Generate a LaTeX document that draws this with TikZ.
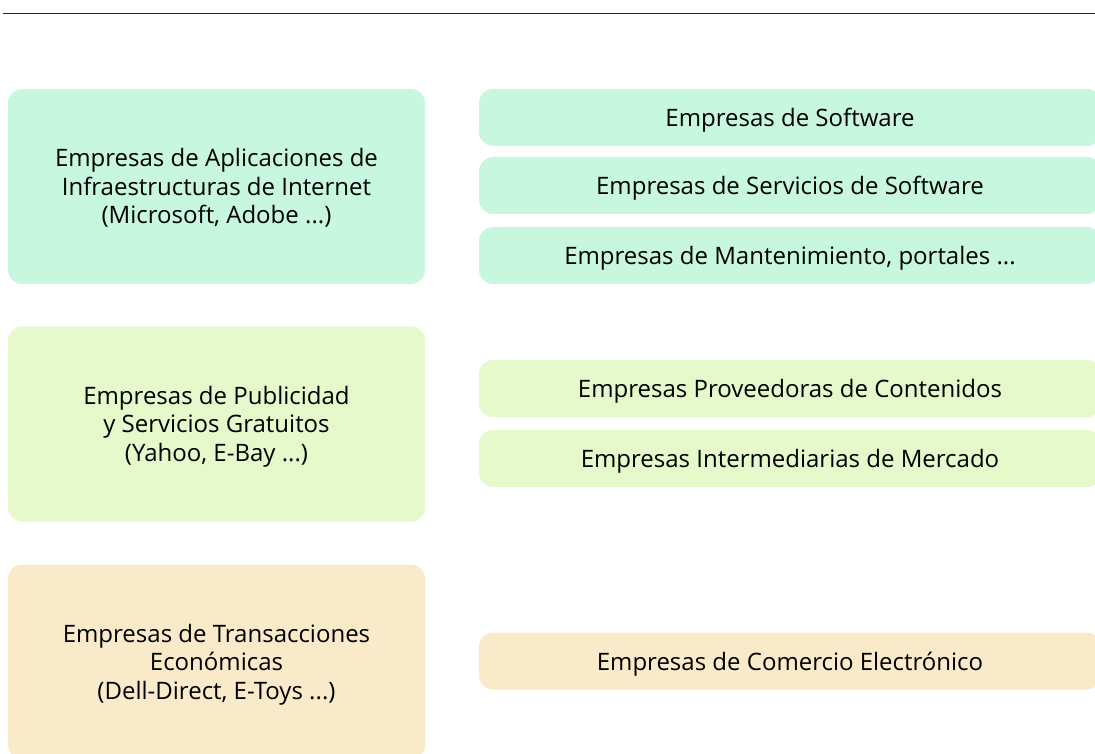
\documentclass[tikz,border=0pt]{standalone}
\usepackage{fontspec}
\setmainfont{Open Sans}
\definecolor{mint}{RGB}{199,247,223}
\definecolor{lime}{RGB}{229,249,203}
\definecolor{sand}{RGB}{249,234,201}
\begin{document}
\begin{tikzpicture}[x=1pt,y=-1pt,
  box/.style={rectangle, rounded corners=14pt, draw=none, inner sep=0pt,
    align=center, font=\fontsize{24}{28.5}\selectfont, text=black},
  bigbox/.style={box, minimum width=417pt, minimum height=195pt,
    text height=82.2pt, text depth=7.8pt},
  smallbox/.style={box, minimum width=622pt, minimum height=57pt,
    text height=22.2pt, text depth=3.8pt}]
\useasboundingbox (0,0) rectangle (1095,754);
\clip (0,0) rectangle (1095,754);
\coordinate (l0) at (3,13.5);
\coordinate (l1) at (1095,13.5);
\draw[line width=1.2pt, black!85] (l0) -- (l1);
\node[bigbox, fill=mint] (infra) at (216.5,186.5)
  {Empresas de Aplicaciones de\\Infraestructuras de Internet\\(Microsoft, Adobe ...)};
\node[bigbox, fill=lime] (publi) at (216.5,424)
  {Empresas de Publicidad\\y Servicios Gratuitos\\(Yahoo, E-Bay ...)};
\node[bigbox, fill=sand] (trans) at (216.5,662)
  {Empresas de Transacciones\\Económicas\\(Dell-Direct, E-Toys ...)};
\node[smallbox, fill=mint] (soft) at (790,117.5) {Empresas de Software};
\node[smallbox, fill=mint] (serv) at (790,185.5) {Empresas de Servicios de Software};
\node[smallbox, fill=mint] (mant) at (790,255.5) {Empresas de Mantenimiento, portales ...};
\node[smallbox, fill=lime] (prov) at (790,388.5) {Empresas Proveedoras de Contenidos};
\node[smallbox, fill=lime] (inter) at (790,458.5) {Empresas Intermediarias de Mercado};
\node[smallbox, fill=sand] (come) at (790,661) {Empresas de Comercio Electrónico};
\end{tikzpicture}
\end{document}
